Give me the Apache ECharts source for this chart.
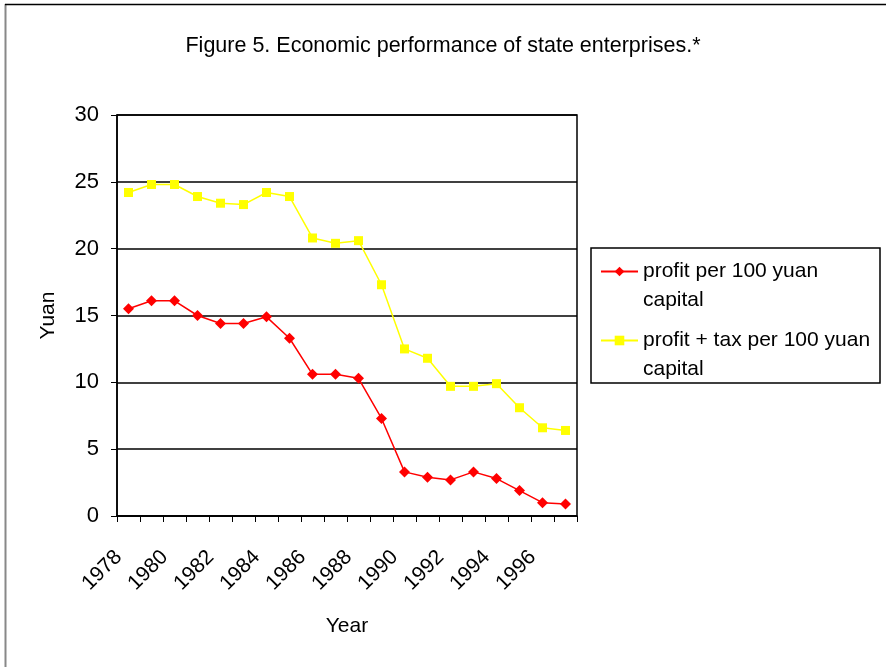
<!DOCTYPE html>
<html>
<head>
<meta charset="utf-8">
<script src="https://cdn.jsdelivr.net/npm/echarts@6/dist/echarts.min.js"></script>
<style>
html,body{margin:0;padding:0;background:#fff;}
#c{width:886px;height:667px;}
</style>
</head>
<body>
<div id="c"></div>
<script>
const years = ['1978','1979','1980','1981','1982','1983','1984','1985','1986','1987','1988','1989','1990','1991','1992','1993','1994','1995','1996','1997'];
const profit = [15.5,16.1,16.1,15.0,14.4,14.4,14.9,13.3,10.6,10.6,10.3,7.3,3.3,2.9,2.7,3.3,2.8,1.9,1.0,0.9];
const profitTax = [24.2,24.8,24.8,23.9,23.4,23.3,24.2,23.9,20.8,20.4,20.6,17.3,12.5,11.8,9.7,9.7,9.9,8.1,6.6,6.4];
const seriesNames = ['profit per 100 yuan\ncapital','profit + tax per 100 yuan\ncapital'];

const font = 'Liberation Sans, Arial, sans-serif';
const chart = echarts.init(document.getElementById('c'), null, {renderer:'canvas'});
const LH = 29;
chart.setOption({
  animation:false,
  backgroundColor:'#fff',
  title:{
    text:'Figure 5. Economic performance of state enterprises.*',
    left:'center', top:30,
    textStyle:{fontFamily:font, fontSize:21.5, fontWeight:'normal', color:'#000'}
  },
  grid:{left:117, top:115, width:460, height:401, show:true, borderColor:'#000', borderWidth:1.5, backgroundColor:'transparent'},
  legend:{
    orient:'vertical', left:600, top:228, padding:0, itemGap:-18,
    itemWidth:37, itemHeight:12,
    formatter: function(name){ return ' \n' + name; },
    textStyle:{fontFamily:font, fontSize:21, color:'#000', lineHeight:LH},
    data:seriesNames
  },
  graphic:[
    {type:'rect', shape:{x:591, y:248, width:289, height:135}, style:{fill:null, stroke:'#000', lineWidth:1.5}, z:-1},
    {type:'line', shape:{x1:5.5, y1:4, x2:5.5, y2:667}, style:{stroke:'#888', lineWidth:2}, z:-1},
    {type:'line', shape:{x1:5, y1:4.5, x2:886, y2:4.5}, style:{stroke:'#000', lineWidth:1.5}, z:-1}
  ],
  xAxis:{
    type:'category', data:years, boundaryGap:true,
    name:'Year', nameLocation:'middle', nameGap:100,
    nameTextStyle:{fontFamily:font, fontSize:21, color:'#000'},
    axisLine:{lineStyle:{color:'#000', width:1.5}},
    axisTick:{show:true, interval:0, length:6, lineStyle:{color:'#000'}},
    axisLabel:{interval:1, rotate:45, margin:28, padding:[0,14,0,0], fontFamily:font, fontSize:21, color:'#000'},
    splitLine:{show:false}
  },
  yAxis:{
    type:'value', min:0, max:30, interval:5,
    name:'Yuan', nameLocation:'middle', nameGap:58,
    nameTextStyle:{fontFamily:font, fontSize:21, color:'#000'},
    axisLine:{show:true, lineStyle:{color:'#000', width:1.5}},
    axisTick:{show:true, length:6, lineStyle:{color:'#000'}},
    axisLabel:{margin:18, fontFamily:font, fontSize:22, color:'#000'},
    splitLine:{show:true, lineStyle:{color:'#000', width:1.5}}
  },
  series:[
    {name:seriesNames[0], type:'line', data:profit, symbol:'diamond', symbolSize:11,
     itemStyle:{color:'#ff0000'}, lineStyle:{color:'#ff0000', width:1.5}},
    {name:seriesNames[1], type:'line', data:profitTax, symbol:'rect', symbolSize:9,
     itemStyle:{color:'#ffff00'}, lineStyle:{color:'#ffff00', width:1.5}}
  ]
});
</script>
</body>
</html>
